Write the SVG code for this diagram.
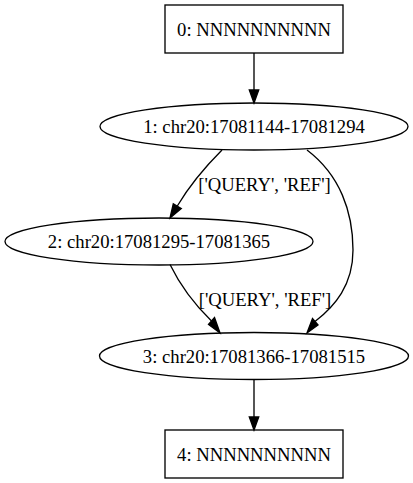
<svg xmlns="http://www.w3.org/2000/svg" width="413" height="483" viewBox="0 0 413 483">
<style>
.n{fill:none;stroke:#000;stroke-width:1.33}
.t{font-family:"Liberation Serif","Times New Roman",serif;font-size:18.67px;fill:#000}
.e{fill:none;stroke:#000;stroke-width:1.33}
.a{fill:#000;stroke:#000;stroke-width:1.33}
</style>
<rect width="413" height="483" fill="#fff"/>
<g id="edges">
<path class="e" d="M254,53 V90"/>
<polygon class="a" points="258.7,90 254,103 249.3,90"/>
<path class="e" d="M222,150 C208,164 191,183 177.3,206"/>
<polygon class="a" points="181.3,208.5 170,218 173.3,203.8"/>
<text class="t" x="264.5" y="191" text-anchor="middle">['QUERY', 'REF']</text>
<path class="e" d="M307,150 C340,175 353,212 353,250 C353,285 335,306 315,321.5"/>
<polygon class="a" points="318,325 307,333 312.5,318.5"/>
<path class="e" d="M170,264.5 C180,285 195,305 211.5,321"/>
<polygon class="a" points="214.5,317.5 220,333 208.5,324.5"/>
<text class="t" x="265" y="306" text-anchor="middle">['QUERY', 'REF']</text>
<path class="e" d="M254,379.5 V417"/>
<polygon class="a" points="258.7,417 254,430 249.3,417"/>
</g>
<g id="node0">
<rect class="n" x="165" y="5" width="178" height="48"/>
<text class="t" x="254" y="36" text-anchor="middle">0: NNNNNNNNNN</text>
</g>
<g id="node1">
<ellipse class="n" cx="254" cy="126.5" rx="154" ry="23.5"/>
<text class="t" x="254" y="133" text-anchor="middle">1: chr20:17081144-17081294</text>
</g>
<g id="node2">
<ellipse class="n" cx="159" cy="241.5" rx="154" ry="23.5"/>
<text class="t" x="159" y="248" text-anchor="middle">2: chr20:17081295-17081365</text>
</g>
<g id="node3">
<ellipse class="n" cx="254" cy="356" rx="154.5" ry="23.5"/>
<text class="t" x="254" y="362.5" text-anchor="middle">3: chr20:17081366-17081515</text>
</g>
<g id="node4">
<rect class="n" x="165" y="430" width="178" height="48"/>
<text class="t" x="254" y="461" text-anchor="middle">4: NNNNNNNNNN</text>
</g>
</svg>
